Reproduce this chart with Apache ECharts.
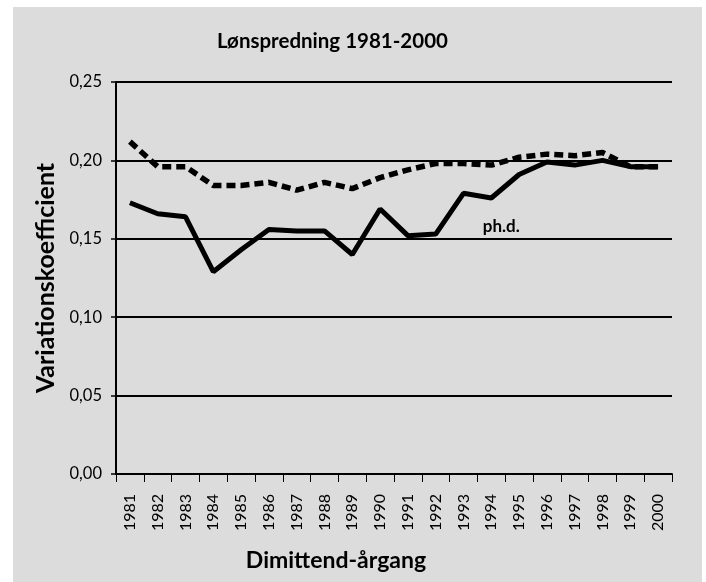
<!DOCTYPE html>
<html>
<head>
<meta charset="utf-8">
<script src="https://cdn.jsdelivr.net/npm/echarts@6/dist/echarts.min.js"></script>
<style>
  html, body { margin: 0; padding: 0; background: #fff; }
  #main { width: 706px; height: 582px; }
</style>
</head>
<body>
<div id="main"></div>
<script>
// årgange og variationskoefficienter
var years = ['1981', '1982', '1983', '1984', '1985', '1986', '1987', '1988', '1989', '1990',
  '1991', '1992', '1993', '1994', '1995', '1996', '1997', '1998', '1999', '2000'];
var phd = [0.173, 0.166, 0.164, 0.129, 0.143, 0.156, 0.155, 0.155, 0.140, 0.169,
  0.152, 0.153, 0.179, 0.176, 0.191, 0.199, 0.197, 0.200, 0.196, 0.196];
var other = [0.212, 0.196, 0.196, 0.184, 0.184, 0.186, 0.181, 0.186, 0.182, 0.189,
  0.194, 0.198, 0.198, 0.197, 0.202, 0.204, 0.203, 0.205, 0.196, 0.196];
var yTicks = [0, 0.05, 0.10, 0.15, 0.20, 0.25];

var font = 'Lato, "Open Sans", sans-serif';
var chart = echarts.init(document.getElementById('main'));

var option = {
  backgroundColor: '#ffffff',
  animation: false,
  graphic: [{
    type: 'rect',
    z: -10,
    shape: { x: 13, y: 7, width: 689, height: 575 },
    style: { fill: '#dcdcdc' }
  }, {
    type: 'text',
    left: 217,
    top: 31,
    style: { text: 'Lønspredning 1981-2000', font: 'bold 20.5px ' + font, fill: '#000' }
  }],
  grid: {
    left: 116,
    right: 34,
    top: 82,
    bottom: 108
  },
  xAxis: {
    type: 'category',
    data: years,
    boundaryGap: true,
    name: 'Dimittend-årgang',
    nameLocation: 'middle',
    nameGap: 75,
    nameTextStyle: {
      fontFamily: font, fontWeight: 'bold', fontSize: 23, color: '#000',
      padding: [0, 116, 0, 0]
    },
    axisLine: { lineStyle: { color: '#000', width: 2 } },
    axisTick: { show: true, length: 8, lineStyle: { color: '#000', width: 1 } },
    axisLabel: { rotate: 90, interval: 0, margin: 20, fontFamily: font, fontSize: 16, color: '#000' },
    splitLine: { show: false }
  },
  yAxis: {
    type: 'value',
    min: 0,
    max: 0.25,
    interval: 0.05,
    name: 'Variationskoefficient',
    nameLocation: 'middle',
    nameGap: 56,
    nameTextStyle: { fontFamily: font, fontWeight: 'bold', fontSize: 25, color: '#000' },
    axisLine: { show: true, lineStyle: { color: '#000', width: 2 } },
    axisTick: { show: true, inside: false, length: 5, lineStyle: { color: '#000', width: 1.5 } },
    axisLabel: {
      margin: 14,
      fontFamily: font,
      fontSize: 16.5,
      color: '#000',
      formatter: function (v) {
        var i = yTicks.indexOf(Math.round(v * 100) / 100);
        return (i >= 0 ? yTicks[i] : v).toFixed(2).replace('.', ',');
      }
    },
    splitLine: { show: true, lineStyle: { color: '#000', width: 1.8 } }
  },
  series: [{
    name: 'øvrige',
    type: 'line',
    data: other,
    symbol: 'none',
    lineStyle: { color: '#000', width: 5.5, type: [9, 5] },
    z: 2
  }, {
    name: 'ph.d.',
    type: 'line',
    data: phd,
    symbol: 'none',
    lineStyle: { color: '#000', width: 5 },
    z: 3,
    markPoint: {
      symbol: 'circle',
      symbolSize: 1,
      itemStyle: { color: 'rgba(0,0,0,0)' },
      data: [{
        coord: ['1994', 0.158],
        label: {
          show: true,
          position: 'inside',
          formatter: 'ph.d.',
          offset: [10, 0],
          fontFamily: font,
          fontWeight: 'bold',
          fontSize: 17,
          color: '#000'
        }
      }]
    }
  }]
};

chart.setOption(option);
</script>
</body>
</html>
